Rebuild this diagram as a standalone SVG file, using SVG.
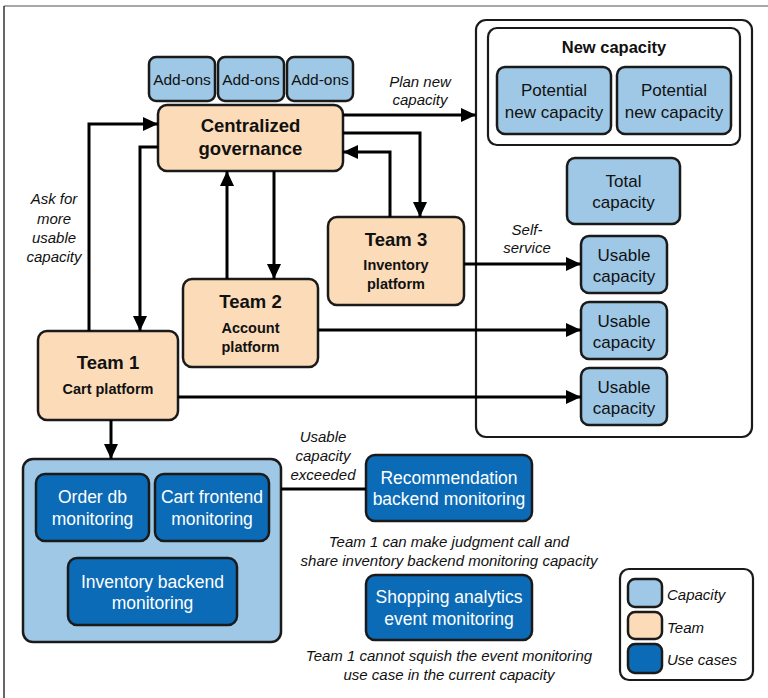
<svg xmlns="http://www.w3.org/2000/svg" width="768" height="698" viewBox="0 0 768 698">
  <style>
    .box { stroke: #1a1a1a; stroke-width: 2.5; }
    .cap { fill: #9ec8e6; }
    .team { fill: #fcdcb8; }
    .use { fill: #0b6bb7; }
    .frame { fill: none; stroke: #1a1a1a; stroke-width: 2.2; }
    .t { font-family: "Liberation Sans", Arial, sans-serif; fill: #111; text-anchor: middle; }
    .w { fill: #ffffff; }
    .b { font-weight: bold; }
    .i { font-style: italic; }
    .s { text-anchor: start; }
    .conn { fill: none; stroke: #000; stroke-width: 3; }
    .arr { marker-end: url(#head); }
  </style>
  <defs>
    <marker id="head" viewBox="0 0 15 14" refX="15" refY="7" markerWidth="15" markerHeight="14" markerUnits="userSpaceOnUse" orient="auto">
      <path d="M0,0 L15,7 L0,14 z" fill="#000"/>
    </marker>
  </defs>

  <rect width="768" height="698" fill="#ffffff"/>
  <!-- page edge -->
  <line x1="4" y1="6" x2="768" y2="6" stroke="#8a8a8a" stroke-width="1.5"/>
  <line x1="4" y1="6" x2="4" y2="698" stroke="#333" stroke-width="1.5"/>

  <!-- capacity pool on the right -->
  <g id="capacity-pool">
    <rect class="frame" x="476" y="20" width="276" height="417" rx="10"/>
  </g>
  <g id="new-capacity">
    <rect class="frame" x="488" y="28" width="252" height="117" rx="9"/>
    <text class="t b" x="614" y="53" font-size="16.5">New capacity</text>
  </g>
  <g id="potential-1">
    <rect class="box cap" x="497" y="67" width="114" height="67" rx="8"/>
    <text class="t" x="554" y="96" font-size="17">Potential</text>
    <text class="t" x="554" y="118" font-size="17">new capacity</text>
  </g>
  <g id="potential-2">
    <rect class="box cap" x="617" y="67" width="114" height="67" rx="8"/>
    <text class="t" x="674" y="96" font-size="17">Potential</text>
    <text class="t" x="674" y="118" font-size="17">new capacity</text>
  </g>
  <g id="total-capacity">
    <rect class="box cap" x="567" y="158" width="113" height="66" rx="8"/>
    <text class="t" x="623.5" y="187" font-size="17">Total</text>
    <text class="t" x="623.5" y="208" font-size="17">capacity</text>
  </g>
  <g id="usable-1">
    <rect class="box cap" x="581" y="236" width="86" height="57" rx="8"/>
    <text class="t" x="624" y="261" font-size="17">Usable</text>
    <text class="t" x="624" y="282" font-size="17">capacity</text>
  </g>
  <g id="usable-2">
    <rect class="box cap" x="581" y="302" width="86" height="57" rx="8"/>
    <text class="t" x="624" y="327" font-size="17">Usable</text>
    <text class="t" x="624" y="348" font-size="17">capacity</text>
  </g>
  <g id="usable-3">
    <rect class="box cap" x="581" y="368" width="86" height="57" rx="8"/>
    <text class="t" x="624" y="393" font-size="17">Usable</text>
    <text class="t" x="624" y="414" font-size="17">capacity</text>
  </g>

  <!-- add-ons and governance -->
  <g id="addon-1">
    <rect class="box cap" x="149" y="57" width="66" height="44" rx="7"/>
    <text class="t" x="182" y="85" font-size="15.5">Add-ons</text>
  </g>
  <g id="addon-2">
    <rect class="box cap" x="218" y="57" width="66" height="44" rx="7"/>
    <text class="t" x="251" y="85" font-size="15.5">Add-ons</text>
  </g>
  <g id="addon-3">
    <rect class="box cap" x="287" y="57" width="66" height="44" rx="7"/>
    <text class="t" x="320" y="85" font-size="15.5">Add-ons</text>
  </g>
  <g id="governance">
    <rect class="box team" x="158" y="105" width="185" height="66" rx="9"/>
    <text class="t b" x="250.5" y="132" font-size="18.5">Centralized</text>
    <text class="t b" x="250.5" y="155" font-size="18.5">governance</text>
  </g>

  <!-- teams -->
  <g id="team-3">
    <rect class="box team" x="328" y="217" width="136" height="88" rx="9"/>
    <text class="t b" x="396" y="246" font-size="18.5">Team 3</text>
    <text class="t b" x="396" y="270" font-size="14.5">Inventory</text>
    <text class="t b" x="396" y="289" font-size="14.5">platform</text>
  </g>
  <g id="team-2">
    <rect class="box team" x="183" y="279" width="135" height="88" rx="9"/>
    <text class="t b" x="250.5" y="308" font-size="18.5">Team 2</text>
    <text class="t b" x="250.5" y="333" font-size="14.5">Account</text>
    <text class="t b" x="250.5" y="352" font-size="14.5">platform</text>
  </g>
  <g id="team-1">
    <rect class="box team" x="38" y="331" width="140" height="89" rx="9"/>
    <text class="t b" x="108" y="369" font-size="18.5">Team 1</text>
    <text class="t b" x="108" y="394" font-size="14.5">Cart platform</text>
  </g>

  <!-- team 1 use cases -->
  <g id="team-1-capacity">
    <rect class="box cap" x="23" y="459" width="258" height="183" rx="10"/>
  </g>
  <g id="order-db">
    <rect class="box use" x="36" y="474" width="113" height="67" rx="9"/>
    <text class="t w" x="92.5" y="503" font-size="17.5">Order db</text>
    <text class="t w" x="92.5" y="525" font-size="17.5">monitoring</text>
  </g>
  <g id="cart-frontend">
    <rect class="box use" x="155" y="474" width="114" height="67" rx="9"/>
    <text class="t w" x="212" y="503" font-size="17.5">Cart frontend</text>
    <text class="t w" x="212" y="525" font-size="17.5">monitoring</text>
  </g>
  <g id="inventory-backend">
    <rect class="box use" x="68" y="558" width="169" height="67" rx="9"/>
    <text class="t w" x="152.5" y="588" font-size="17.5">Inventory backend</text>
    <text class="t w" x="152.5" y="609" font-size="17.5">monitoring</text>
  </g>
  <g id="recommendation">
    <rect class="box use" x="366" y="455" width="166" height="66" rx="9"/>
    <text class="t w" x="449" y="484" font-size="17.5">Recommendation</text>
    <text class="t w" x="449" y="505" font-size="17.5">backend monitoring</text>
  </g>
  <g id="shopping-analytics">
    <rect class="box use" x="366" y="575" width="166" height="65" rx="9"/>
    <text class="t w" x="449" y="603" font-size="17.5">Shopping analytics</text>
    <text class="t w" x="449" y="625" font-size="17.5">event monitoring</text>
  </g>

  <!-- connectors -->
  <g id="connectors">
    <path class="conn arr" d="M89,331 V124 H158"/>
    <path class="conn arr" d="M158,147 H140 V331"/>
    <path class="conn arr" d="M227,279 V171"/>
    <path class="conn arr" d="M274,171 V279"/>
    <path class="conn arr" d="M343,115 H476"/>
    <path class="conn arr" d="M343,133 H420 V217"/>
    <path class="conn arr" d="M390,217 V152 H343"/>
    <path class="conn arr" d="M464,264 H581"/>
    <path class="conn arr" d="M318,330 H581"/>
    <path class="conn arr" d="M178,397 H581"/>
    <path class="conn arr" d="M111,420 V459"/>
    <path class="conn" d="M281,489 H366"/>
  </g>

  <!-- connector labels -->
  <g id="labels">
    <text class="t i" x="54" y="204" font-size="15">Ask for</text>
    <text class="t i" x="54" y="224" font-size="15">more</text>
    <text class="t i" x="54" y="243" font-size="15">usable</text>
    <text class="t i" x="54" y="262" font-size="15">capacity</text>
    <text class="t i" x="420" y="87" font-size="15">Plan new</text>
    <text class="t i" x="420" y="105" font-size="15">capacity</text>
    <text class="t i" x="527" y="235" font-size="15">Self-</text>
    <text class="t i" x="527" y="253" font-size="15">service</text>
    <text class="t i" x="323" y="442" font-size="15">Usable</text>
    <text class="t i" x="323" y="461" font-size="15">capacity</text>
    <text class="t i" x="323" y="480" font-size="15">exceeded</text>
    <text class="t i" x="449" y="547" font-size="15">Team 1 can make judgment call and</text>
    <text class="t i" x="449" y="566" font-size="15">share inventory backend monitoring capacity</text>
    <text class="t i" x="449" y="661" font-size="15">Team 1 cannot squish the event monitoring</text>
    <text class="t i" x="449" y="680" font-size="15">use case in the current capacity</text>
  </g>

  <!-- legend -->
  <g id="legend">
    <rect class="frame" x="620" y="569" width="133" height="111" rx="9"/>
    <rect class="box cap" x="628" y="579" width="34" height="28" rx="7"/>
    <rect class="box team" x="628" y="612" width="34" height="27" rx="7"/>
    <rect class="box use" x="628" y="644" width="34" height="29" rx="7"/>
    <text class="t i s" x="667" y="600" font-size="15">Capacity</text>
    <text class="t i s" x="667" y="633" font-size="15">Team</text>
    <text class="t i s" x="667" y="665" font-size="15">Use cases</text>
  </g>
</svg>
